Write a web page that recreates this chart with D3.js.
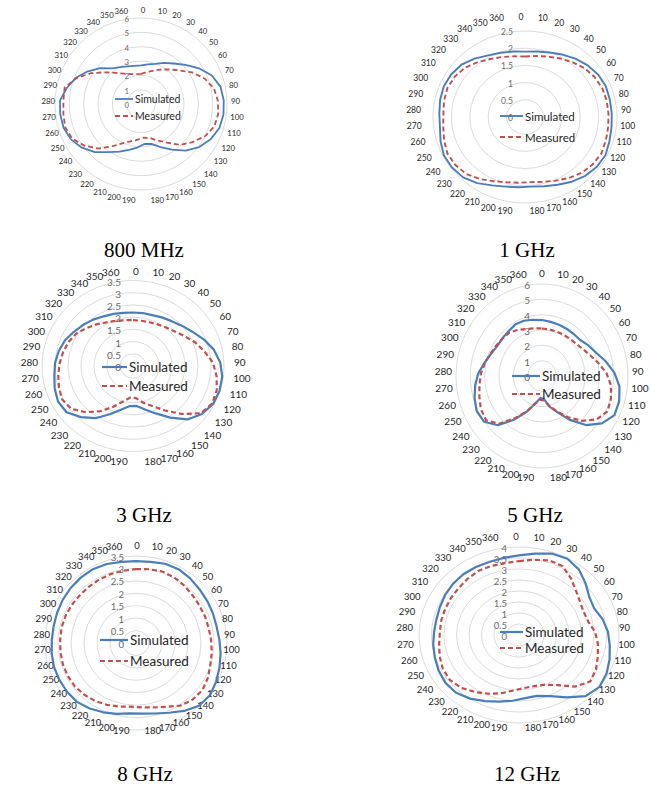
<!DOCTYPE html>
<html><head><meta charset="utf-8">
<script src="https://cdn.jsdelivr.net/npm/d3@7"></script>
<style>body{margin:0;background:#fff}</style>
</head><body>
<svg id="c" width="651" height="787"></svg>
<script>
// Categories (degrees) – 37 points, 0 and 360 both present
const categories = ["0","10","20","30","40","50","60","70","80","90","100","110","120","130","140","150","160","170","180","190","200","210","220","230","240","250","260","270","280","290","300","310","320","330","340","350","360"];

// Tick labels of each panel's radial axis
const ticks800 = [0,1,2,3,4,5,6];
const ticks1G  = [0,0.5,1,1.5,2,2.5];
const ticks3G  = [0,0.5,1,1.5,2,2.5,3,3.5];
const ticks5G  = [0,1,2,3,4,5,6];
const ticks8G  = [0,0.5,1,1.5,2,2.5,3,3.5];
const ticks12G = [0,0.5,1,1.5,2,2.5,3,3.5,4];

// Series values
const sim800  = [2.7,2.81,2.97,3.28,3.63,4.14,4.75,5.33,5.68,5.78,5.8,5.72,5.45,5.05,4.5,3.85,3.3,2.88,2.8,3.05,3.3,3.65,4.05,4.65,5.13,5.48,5.65,5.68,5.66,5.3,4.9,4.35,3.78,3.2,2.95,2.78,2.7];
const meas800 = [2.1,2.25,2.45,2.75,3.1,3.55,4.2,4.78,5.2,5.37,5.43,5.35,5.0,4.47,3.95,3.25,2.8,2.45,2.35,2.5,2.68,3.0,3.55,4.3,4.9,5.37,5.53,5.46,5.42,5.45,4.85,4.1,3.35,2.8,2.42,2.22,2.12];
const sim1G   = [1.9,1.93,1.99,2.08,2.18,2.27,2.34,2.37,2.36,2.36,2.37,2.4,2.45,2.43,2.37,2.27,2.16,2.08,2.03,2.05,2.09,2.18,2.32,2.43,2.47,2.47,2.4,2.33,2.33,2.36,2.38,2.36,2.3,2.18,2.05,1.98,1.93];
const meas1G  = [1.76,1.8,1.86,1.95,2.05,2.15,2.22,2.26,2.27,2.27,2.28,2.3,2.33,2.3,2.24,2.14,2.03,1.95,1.9,1.92,1.96,2.05,2.18,2.3,2.35,2.36,2.3,2.24,2.22,2.25,2.27,2.24,2.17,2.05,1.93,1.85,1.79];
const sim3G   = [2.19,2.2,2.21,2.28,2.36,2.5,2.68,2.93,3.18,3.36,3.46,3.48,3.45,3.3,3.03,2.55,2.13,1.84,1.64,1.65,1.85,2.17,2.58,2.9,3.18,3.23,3.15,3.05,3.0,2.92,2.82,2.67,2.55,2.44,2.33,2.26,2.21];
const meas3G  = [1.88,1.88,1.9,1.95,2.03,2.14,2.33,2.58,2.82,3.08,3.24,3.37,3.41,3.25,2.72,2.2,1.8,1.55,1.32,1.3,1.5,1.83,2.23,2.62,2.95,3.05,2.98,2.9,2.82,2.75,2.66,2.55,2.36,2.2,2.05,1.96,1.9];
const sim5G   = [3.65,3.58,3.55,3.53,3.52,3.55,3.8,4.07,4.55,5.05,5.45,5.63,5.66,5.2,4.43,3.45,2.58,2.06,1.5,1.45,1.85,2.54,3.42,4.45,5.02,5.1,4.92,4.7,4.44,4.1,3.85,3.69,3.7,3.74,3.84,3.82,3.72];
const meas5G  = [3.1,3.08,3.07,3.09,3.11,3.18,3.35,3.62,4.02,4.5,4.85,5.03,5.12,4.75,4.05,3.25,2.55,2.0,1.6,1.55,1.85,2.5,3.3,4.32,4.85,4.78,4.57,4.4,4.26,4.07,3.88,3.76,3.68,3.63,3.45,3.25,3.15];
const sim8G   = [3.29,3.31,3.38,3.39,3.33,3.26,3.22,3.19,3.17,3.21,3.28,3.36,3.45,3.54,3.5,3.3,3.08,2.93,2.85,2.84,2.95,3.06,3.18,3.28,3.3,3.3,3.3,3.27,3.24,3.24,3.27,3.31,3.35,3.38,3.4,3.37,3.31];
const meas8G  = [2.97,3.01,3.05,3.02,2.96,2.9,2.87,2.86,2.86,2.89,2.94,2.99,3.1,3.18,3.15,3.04,2.82,2.68,2.6,2.57,2.64,2.73,2.81,2.88,2.93,2.94,2.94,2.93,2.92,2.93,2.92,2.91,2.89,2.9,2.92,2.94,2.95];
const sim12G  = [3.62,3.75,3.93,3.97,3.82,3.55,3.3,3.24,3.42,3.56,3.66,3.79,3.92,3.99,3.85,3.42,3.05,2.86,2.88,3.0,3.13,3.3,3.49,3.64,3.66,3.6,3.52,3.46,3.4,3.38,3.41,3.47,3.52,3.55,3.54,3.53,3.56];
const meas12G = [3.36,3.47,3.6,3.58,3.31,3.04,2.87,2.79,2.84,3.05,3.18,3.3,3.45,3.55,3.25,2.75,2.48,2.4,2.42,2.53,2.73,2.93,3.13,3.33,3.44,3.41,3.32,3.22,3.17,3.18,3.18,3.2,3.22,3.28,3.34,3.33,3.31];

const seriesNames = ["Simulated","Measured"];
const captions = ["800 MHz","1 GHz","3 GHz","5 GHz","8 GHz","12 GHz"];

// Layout (positions / sizes only)
const panels = [
  {cap:captions[0], sim:sim800, meas:meas800, ticks:ticks800, cx:141, cy:104, rx:86, ry:86, lcx:143, lcy:105, lrx:88, lry:95, fs:7.8, lfs:10.5, legX:115, legW:18, legY:99, legDy:17, capX:144, capY:257, lw:1.8},
  {cap:captions[1], sim:sim1G, meas:meas1G, ticks:ticks1G, cx:525, cy:117, rx:92, ry:86, lcx:521, lcy:114, lrx:100, lry:97, fs:8.6, lfs:11.5, legX:500, legW:23, legY:116, legDy:21, capX:527, capY:257, lw:1.9},
  {cap:captions[2], sim:sim3G, meas:meas3G, ticks:ticks3G, cx:133, cy:366, rx:91, ry:85.5, lcx:136, lcy:366, lrx:98, lry:95, fs:10, lfs:13.5, legX:102, legW:25, legY:367, legDy:19, capX:144, capY:522, lw:2.2},
  {cap:captions[3], sim:sim5G, meas:meas5G, ticks:ticks5G, cx:542, cy:376, rx:86, ry:92, lcx:542, lcy:375, lrx:90, lry:102, fs:10, lfs:13.5, legX:512, legW:28, legY:376, legDy:18, capX:535, capY:522, lw:2.2},
  {cap:captions[4], sim:sim8G, meas:meas8G, ticks:ticks8G, cx:136, cy:643, rx:91, ry:87, lcx:137, lcy:638, lrx:87, lry:93, fs:9.5, lfs:13.5, legX:100, legW:28, legY:640, legDy:21, capX:145, capY:781, lw:2.2},
  {cap:captions[5], sim:sim12G, meas:meas12G, ticks:ticks12G, cx:519, cy:635, rx:100, ry:88, lcx:516, lcy:632, lrx:103, lry:96, fs:9.5, lfs:13.5, legX:500, legW:23, legY:632, legDy:16, capX:527, capY:781, lw:2.2}
];

const BLUE = "#4a7ebb", RED = "#c0504d";
const svg = d3.select("#c");
const angle = d3.scaleLinear().domain([0, categories.length]).range([0, 2*Math.PI]);

panels.forEach(p => {
  const g = svg.append("g");
  const max = d3.max(p.ticks);
  const r = d3.scaleLinear().domain([0, max]).range([0, 1]);
  const px = (v,i) => p.cx + r(v)*p.rx*Math.sin(angle(i));
  const py = (v,i) => p.cy - r(v)*p.ry*Math.cos(angle(i));

  // grid rings
  g.selectAll("ellipse.ring").data(p.ticks.filter(t => t > 0)).join("ellipse")
    .attr("cx", p.cx).attr("cy", p.cy)
    .attr("rx", t => r(t)*p.rx).attr("ry", t => r(t)*p.ry)
    .attr("fill","none").attr("stroke","#dcdcdc").attr("stroke-width",1);

  // value tick labels
  g.selectAll("text.tick").data(p.ticks).join("text")
    .attr("x", p.cx - 12).attr("y", t => p.cy - r(t)*p.ry + 1)
    .attr("text-anchor","end").attr("dominant-baseline","central")
    .attr("font-family","Lato, 'Open Sans', sans-serif").attr("font-size", p.fs)
    .attr("fill","#6b6b6b").text(t => t);

  // category labels (Excel style: left side end-anchored, right side start-anchored)
  g.selectAll("text.cat").data(categories).join("text")
    .attr("x", (c,i) => p.lcx + p.lrx*Math.sin(angle(i)))
    .attr("y", (c,i) => p.lcy - p.lry*Math.cos(angle(i)))
    .attr("text-anchor", (c,i) => {
      const s = Math.sin(angle(i));
      return s > 0.02 ? "start" : (s < -0.02 ? "end" : "middle");
    })
    .attr("dominant-baseline","central")
    .attr("font-family","Lato, 'Open Sans', sans-serif").attr("font-size", p.fs)
    .attr("fill","#1f1f1f").text(c => c);

  const line = d3.line().x((v,i) => px(v,i)).y((v,i) => py(v,i)).curve(d3.curveLinearClosed);

  g.append("path").attr("d", line(p.sim)).attr("fill","none")
    .attr("stroke", BLUE).attr("stroke-width", p.lw).attr("stroke-linejoin","round");
  g.append("path").attr("d", line(p.meas)).attr("fill","none")
    .attr("stroke", RED).attr("stroke-width", p.lw).attr("stroke-dasharray","5,3");

  // legend
  [[seriesNames[0], BLUE, null], [seriesNames[1], RED, "5,3"]].forEach((d, k) => {
    const y = p.legY + k*p.legDy;
    g.append("line").attr("x1", p.legX).attr("x2", p.legX + p.legW).attr("y1", y).attr("y2", y)
      .attr("stroke", d[1]).attr("stroke-width", p.lw).attr("stroke-dasharray", d[2]);
    g.append("text").attr("x", p.legX + p.legW + 2).attr("y", y)
      .attr("dominant-baseline","central")
      .attr("font-family","Lato, 'Open Sans', sans-serif").attr("font-size", p.lfs)
      .attr("fill","#262626").text(d[0]);
  });

  // caption
  svg.append("text").attr("x", p.capX).attr("y", p.capY).attr("text-anchor","middle")
    .attr("font-family","'Liberation Serif', 'Times New Roman', serif").attr("font-size", 21)
    .attr("fill","#000").text(p.cap);
});
</script>
</body></html>
